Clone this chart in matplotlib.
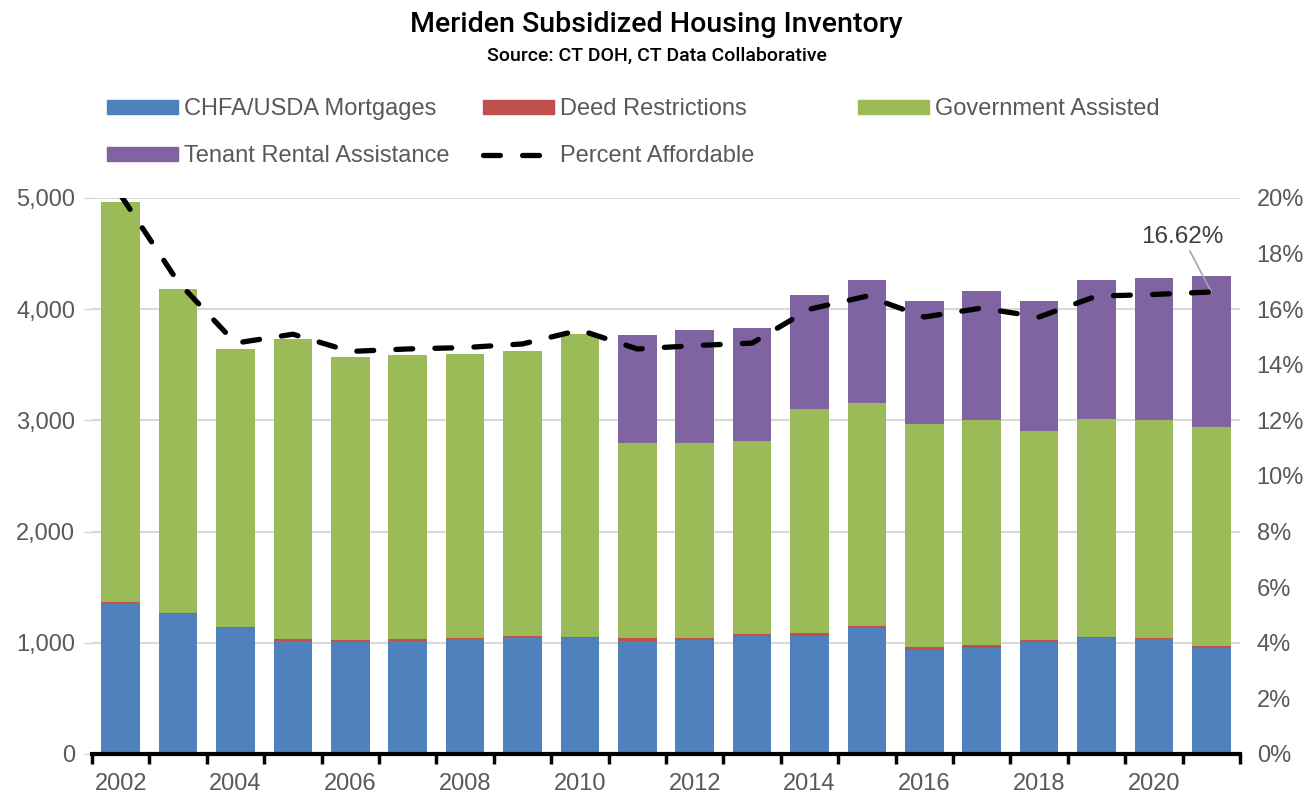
import matplotlib.pyplot as plt
from matplotlib.patches import Patch
from matplotlib.lines import Line2D
from matplotlib.ticker import FuncFormatter
import numpy as np

# 数据
years = list(range(2002, 2022))
chfa_usda = [1360, 1260, 1130, 1020, 1010, 1020, 1030, 1050, 1045, 1020,
             1025, 1060, 1065, 1130, 935, 955, 1005, 1040, 1030, 950]
deed_restrictions = [5, 8, 8, 10, 12, 10, 12, 12, 10, 20,
                     20, 20, 20, 18, 25, 25, 20, 15, 15, 20]
government_assisted = [3595, 2912, 2502, 2700, 2548, 2560, 2558, 2558, 2725, 1760,
                       1755, 1735, 2015, 2012, 2010, 2020, 1880, 1955, 1955, 1970]
tenant_rental = [0, 0, 0, 0, 0, 0, 0, 0, 0, 970,
                 1010, 1015, 1030, 1100, 1100, 1160, 1165, 1250, 1280, 1360]
percent_affordable = [20.1, 16.98, 14.78, 15.1, 14.48, 14.57, 14.62, 14.75, 15.25, 14.57,
                      14.69, 14.78, 16.0, 16.47, 15.72, 16.04, 15.72, 16.47, 16.53, 16.62]

C_BLUE = '#4F81BD'
C_RED = '#C0504D'
C_GREEN = '#9BBB59'
C_PURPLE = '#8064A2'
TXT = '#595959'
FS = 17

plt.rcParams['font.family'] = ['Liberation Sans', 'DejaVu Sans']

fig = plt.figure(figsize=(13.13, 7.94), dpi=100)
ax = fig.add_axes([92 / 1313, 1 - 754 / 794, (1240 - 92) / 1313, (754 - 198) / 794])

x = np.arange(len(years))
w = 0.67
b1 = np.array(chfa_usda)
b2 = b1 + np.array(deed_restrictions)
b3 = b2 + np.array(government_assisted)
ax.bar(x, chfa_usda, w, color=C_BLUE, zorder=2)
ax.bar(x, deed_restrictions, w, bottom=b1, color=C_RED, zorder=2)
ax.bar(x, government_assisted, w, bottom=b2, color=C_GREEN, zorder=2)
ax.bar(x, tenant_rental, w, bottom=b3, color=C_PURPLE, zorder=2)

ax.set_xlim(-0.5, len(years) - 0.5)
ax.set_ylim(0, 5000)
ax.set_yticks(range(0, 5001, 1000))
ax.yaxis.set_major_formatter(FuncFormatter(lambda v, p: f'{int(v):,}'))
ax.grid(axis='y', color='#d9d9d9', linewidth=1.5, zorder=0)
ax.set_axisbelow(True)
for s in ['top', 'right', 'left']:
    ax.spines[s].set_visible(False)
ax.spines['bottom'].set_linewidth(3)
ax.spines['bottom'].set_color('black')
ax.spines['bottom'].set_zorder(5)

# x 轴：分类边界刻度 + 隔年标签
ax.set_xticks(np.arange(-0.5, len(years), 1.0))
ax.set_xticklabels([])
ax.tick_params(axis='x', which='major', length=7, width=2.5, color='black')
ax.set_xticks(x[::2], minor=True)
ax.set_xticklabels([str(y) for y in years[::2]], minor=True)
ax.tick_params(axis='x', which='minor', length=0, labelsize=FS, labelcolor=TXT, pad=14)
ax.tick_params(axis='y', length=6, width=1, color='#d9d9d9', labelsize=FS, labelcolor=TXT, pad=6)

# 右轴：百分比
ax2 = ax.twinx()
ax2.set_ylim(0, 20)
ax2.set_yticks(range(0, 21, 2))
ax2.yaxis.set_major_formatter(FuncFormatter(lambda v, p: f'{int(v)}%'))
ax2.tick_params(axis='y', length=0, labelsize=FS, labelcolor=TXT, pad=12)
for s in ax2.spines.values():
    s.set_visible(False)
ax2.plot(x, percent_affordable, color='black', linewidth=3.8,
         linestyle=(0, (3.2, 4.2)), dash_capstyle='round', zorder=4)

# 标注最后一个值
ax2.annotate(f'{percent_affordable[-1]:.2f}%', xy=(x[-1], percent_affordable[-1]),
             xytext=(x[-1] - 0.5, 18.2), ha='center', va='bottom',
             fontsize=17.5, color='#404040',
             arrowprops=dict(arrowstyle='-', color='#a6a6a6', lw=1.2, shrinkA=0, shrinkB=0))

# 标题
fig.text(0.5, 1 - 25 / 794, 'Meriden Subsidized Housing Inventory', ha='center', va='center',
         fontsize=20.5, fontweight='medium', family=['Roboto', 'DejaVu Sans'], color='black')
fig.text(0.5, 1 - 56 / 794, 'Source: CT DOH, CT Data Collaborative', ha='center', va='center',
         fontsize=14, fontweight='medium', family=['Roboto', 'DejaVu Sans'], color='black')

# 图例：三列，手动定位
legend_cols = [
    ([Patch(color=C_BLUE), Patch(color=C_PURPLE)], ['CHFA/USDA Mortgages', 'Tenant Rental Assistance'], 107),
    ([Patch(color=C_RED),
      Line2D([], [], color='black', linewidth=3.8, linestyle=(0, (3.2, 4.2)), dash_capstyle='round')],
     ['Deed Restrictions', 'Percent Affordable'], 483),
    ([Patch(color=C_GREEN)], ['Government Assisted'], 858),
]
for handles, labels, xpos in legend_cols:
    leg = fig.legend(handles, labels, loc='upper left', bbox_to_anchor=(xpos / 1313, 1 - 98 / 794),
                     frameon=False, fontsize=FS, handlelength=3.0, handleheight=0.55,
                     handletextpad=0.25, labelspacing=1.08, borderpad=0, borderaxespad=0,
                     labelcolor=TXT)

fig.savefig('out.png', dpi=100)
